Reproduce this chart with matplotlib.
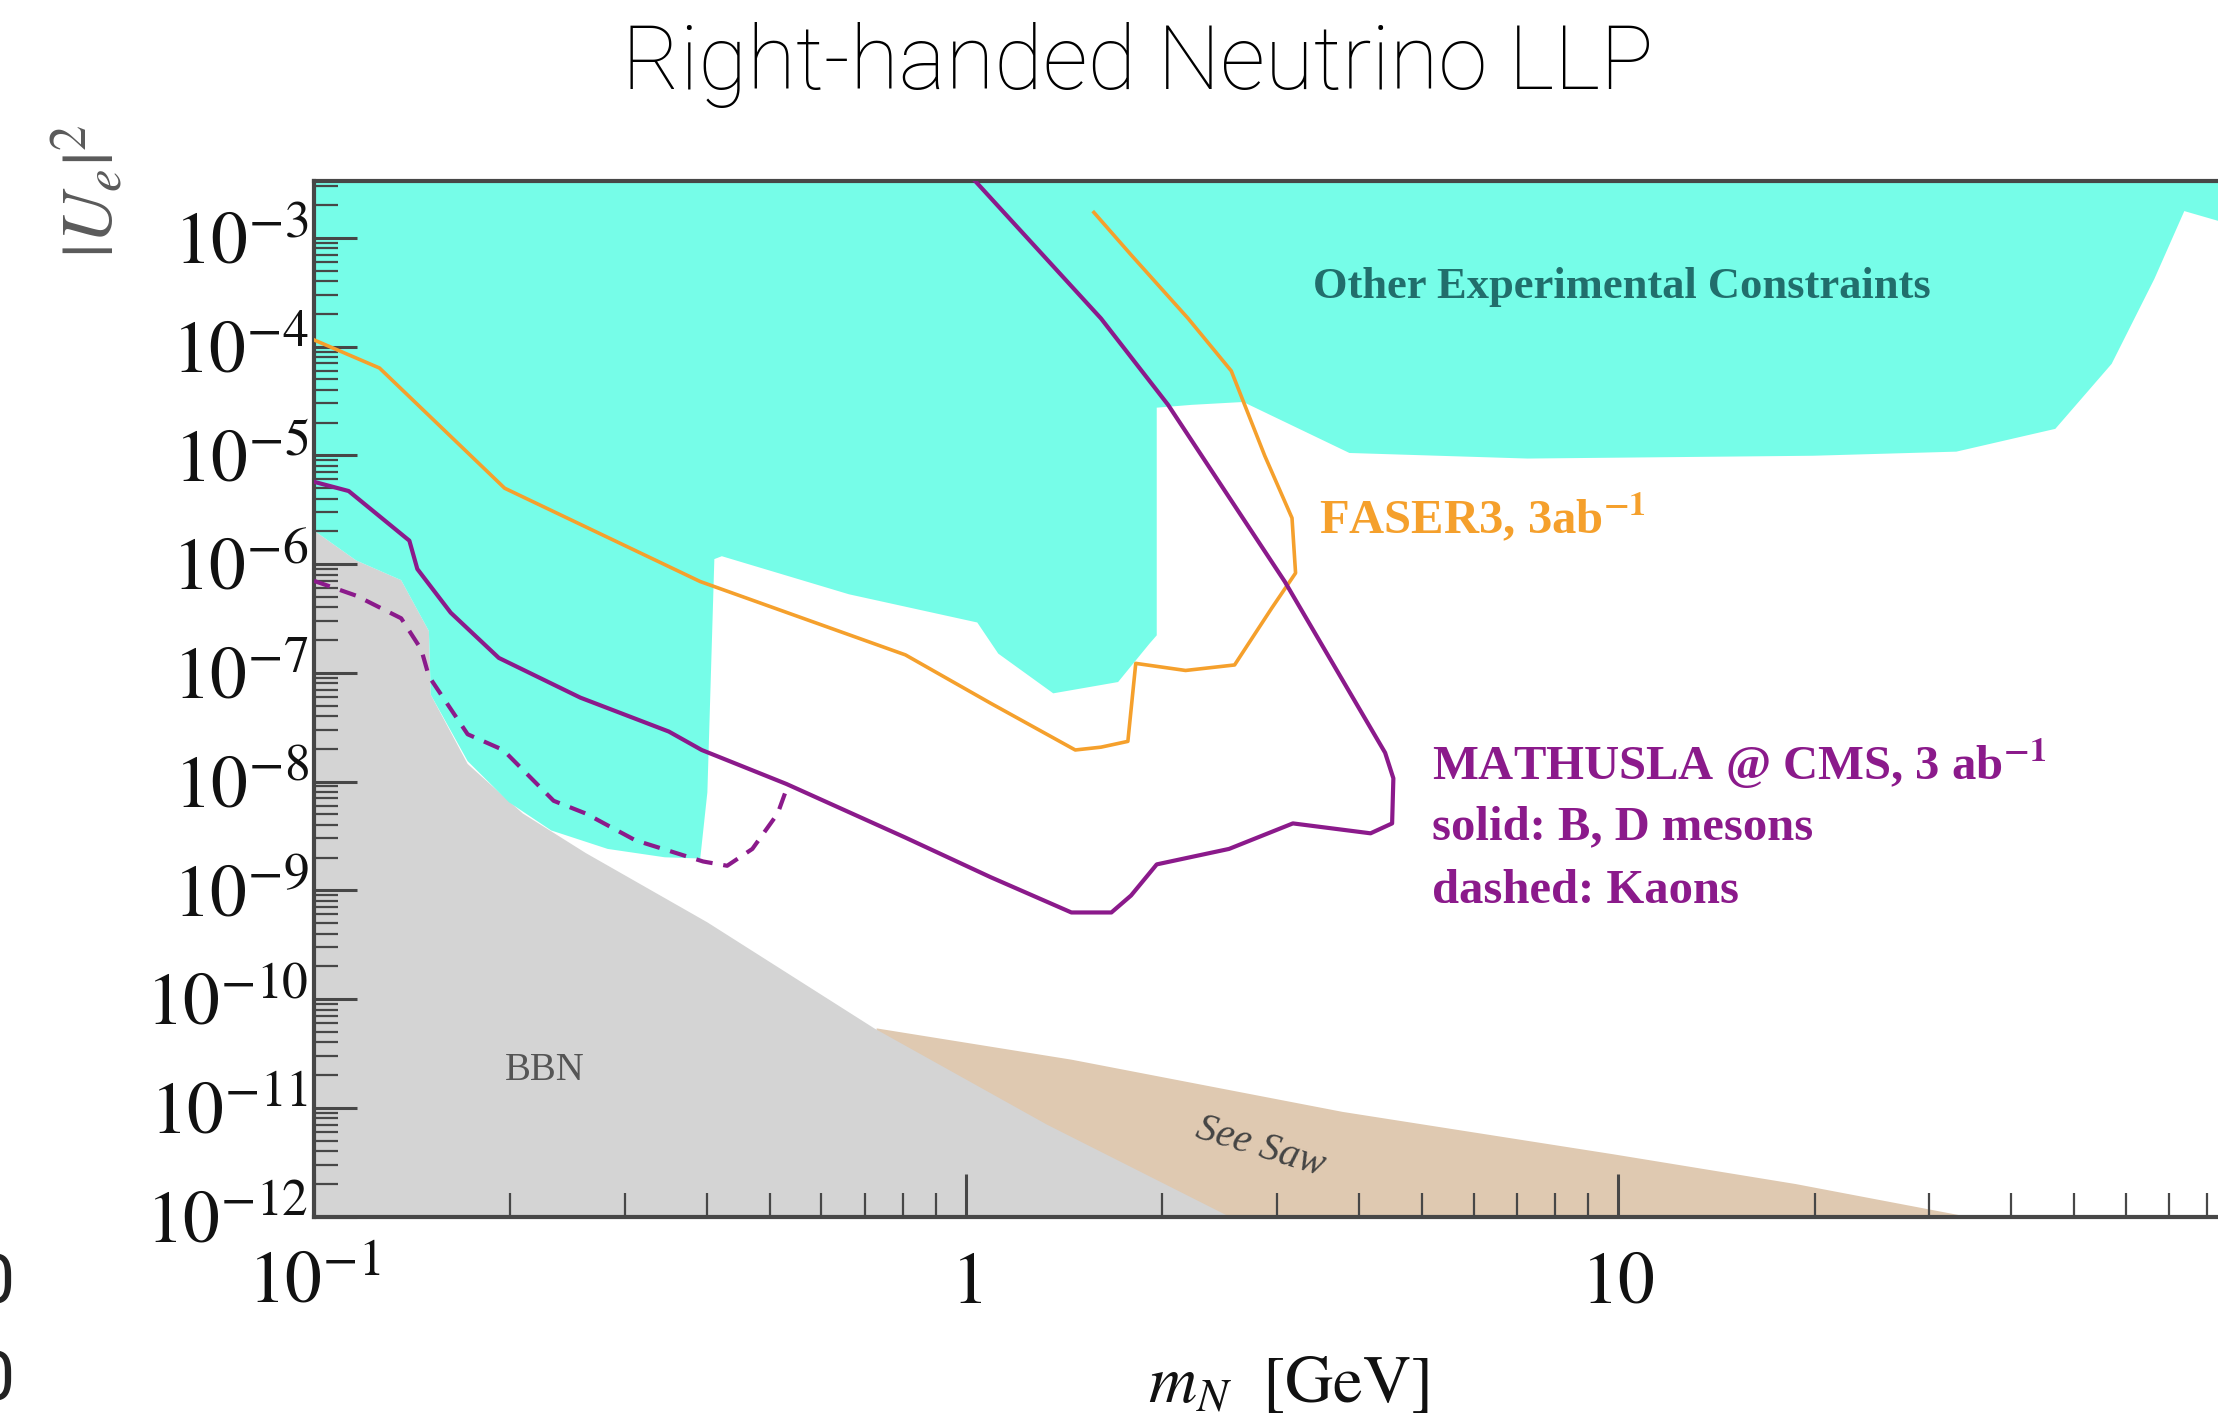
import numpy as np
import matplotlib
matplotlib.use('Agg')
import matplotlib.pyplot as plt
from matplotlib import ticker

plt.rcParams['font.family'] = 'serif'
plt.rcParams['font.serif'] = ['Liberation Serif', 'DejaVu Serif']
plt.rcParams['mathtext.fontset'] = 'stix'

# ---- data ----
# Other experimental constraints: lower edge of the excluded region
other_x = [0.1, 0.116, 0.136, 0.150, 0.151, 0.172, 0.199, 0.231, 0.282, 0.345, 0.391,
           0.401, 0.411, 0.422, 0.661, 1.04, 1.12, 1.36, 1.71, 1.91, 1.96, 1.96,
           2.22, 2.66, 3.87, 7.26, 19.9, 33.0, 46.8, 57.1, 66.4, 73.8, 83.2, 100]
other_y = [2.03e-6, 1.08e-6, 7.11e-7, 2.42e-7, 6.28e-8, 1.54e-8, 6.45e-9, 3.55e-9, 2.40e-9, 2.01e-9, 1.96e-9,
           7.96e-9, 1.11e-6, 1.18e-6, 5.27e-7, 2.90e-7, 1.50e-7, 6.47e-8, 8.22e-8, 1.85e-7, 2.21e-7, 2.74e-5,
           2.91e-5, 3.09e-5, 1.05e-5, 9.33e-6, 9.9e-6, 1.08e-5, 1.75e-5, 6.93e-5, 4.19e-4, 1.76e-3, 1.43e-3, 1.25e-3]

# BBN upper edge
bbn_x = [0.1, 0.116, 0.136, 0.150, 0.151, 0.172, 0.209, 0.261, 0.401, 0.723, 1.33, 2.53]
bbn_y = [2.03e-6, 1.08e-6, 7.11e-7, 2.42e-7, 6.28e-8, 1.45e-8, 5.08e-9, 2.20e-9, 5.07e-10, 5.37e-11, 7.0e-12, 1e-12]

# See-saw upper edge
seesaw_x = [0.729, 1.45, 3.78, 9.84, 18.7, 34.2]
seesaw_y = [5.37e-11, 2.77e-11, 9.16e-12, 3.73e-12, 1.99e-12, 1e-12]

# FASER3, 3 ab^-1
faser_x = [1.57, 1.79, 2.19, 2.55, 2.87, 3.16, 3.20, 2.94, 2.58, 2.17, 1.82, 1.77, 1.61, 1.47,
           1.09, 0.807, 0.391, 0.196, 0.126, 0.1]
faser_y = [1.71e-3, 6.97e-4, 1.81e-4, 5.97e-5, 9.9e-6, 2.65e-6, 8.26e-7, 3.91e-7, 1.18e-7, 1.05e-7, 1.22e-7,
           2.34e-8, 2.07e-8, 1.95e-8, 5.25e-8, 1.46e-7, 6.9e-7, 4.98e-6, 6.34e-5, 1.15e-4]

# MATHUSLA @ CMS, B/D mesons (solid)
mes_x = [0.1, 0.113, 0.140, 0.144, 0.162, 0.192, 0.256, 0.350, 0.393, 0.530, 0.807, 1.09, 1.45, 1.67,
         1.79, 1.96, 2.53, 3.17, 4.17, 4.50, 4.52, 4.39, 3.08, 2.04, 1.61, 0.97]
mes_y = [5.7e-6, 4.69e-6, 1.64e-6, 9.0e-7, 3.57e-7, 1.37e-7, 5.91e-8, 2.88e-8, 1.95e-8, 9.5e-9, 3.05e-9, 1.32e-9,
         6.25e-10, 6.25e-10, 8.95e-10, 1.73e-9, 2.40e-9, 4.12e-9, 3.34e-9, 4.12e-9, 1.07e-8, 1.84e-8,
         6.9e-7, 2.91e-5, 1.81e-4, 5e-3]

# MATHUSLA @ CMS, kaons (dashed)
kaon_x = [0.1, 0.116, 0.136, 0.146, 0.150, 0.172, 0.195, 0.233, 0.261, 0.311, 0.395, 0.430, 0.470, 0.514, 0.531]
kaon_y = [7.0e-7, 5.12e-7, 3.17e-7, 1.64e-7, 9.27e-8, 2.72e-8, 1.95e-8, 6.65e-9, 5.08e-9, 2.88e-9, 1.84e-9,
          1.68e-9, 2.40e-9, 5.08e-9, 8.7e-9]

x_ticks = [0.1, 1, 10, 100]
x_ticklabels = [r'$10^{-1}$', r'$1$', r'$10$', '']
y_ticks = [10.0**k for k in range(-12, -2)]

CYAN = '#76fde8'
GRAY = '#d4d4d4'
TAN = '#dfc9b1'
ORANGE = '#f5a02c'
PURPLE = '#8b1a8b'
AXC = '#474747'

fig = plt.figure(figsize=(22.18, 14.27), dpi=100)
ax = fig.add_axes([0.1416, 0.1475, 0.882, 0.7255])
ax.set_xscale('log')
ax.set_yscale('log')
ax.set_xlim(0.1, 100)
ax.set_ylim(1e-12, 10**-2.48)

# regions
ax.fill(seesaw_x + [34.2, 0.72], seesaw_y + [1e-13, 1e-13], color=TAN, lw=0, zorder=1)
ax.fill(bbn_x + [2.6, 0.09], bbn_y + [1e-13, 1e-13], color=GRAY, lw=0, zorder=1.1)
ax.fill(other_x + [100, 0.1], other_y + [1, 1], color=CYAN, lw=0, zorder=1.2)

# sensitivity curves
ax.plot(faser_x, faser_y, color=ORANGE, lw=2.6, zorder=3)
ax.plot(mes_x, mes_y, color=PURPLE, lw=3.0, zorder=3)
ax.plot(kaon_x, kaon_y, color=PURPLE, lw=3.0, ls=(0, (4, 2.6)), zorder=3)

# labels inside
ax.text(3.40, 3.5e-4, 'Other Experimental Constraints', color='#216e6c', fontsize=32,
        fontweight='bold', ha='left', va='center', zorder=4)
ax.text(3.47, 2.74e-6, r'FASER3, 3ab$^{\mathbf{-1}}$', color=ORANGE, fontsize=35,
        fontweight='bold', ha='left', va='center', zorder=4)
ax.text(5.18, 1.45e-8, r'MATHUSLA @ CMS, 3 ab$^{\mathbf{-1}}$', color=PURPLE, fontsize=35,
        fontweight='bold', ha='left', va='center', zorder=4)
ax.text(5.18, 3.77e-9, 'solid: B, D mesons', color=PURPLE, fontsize=35,
        fontweight='bold', ha='left', va='center', zorder=4)
ax.text(5.18, 9.8e-10, 'dashed: Kaons', color=PURPLE, fontsize=35,
        fontweight='bold', ha='left', va='center', zorder=4)
ax.text(0.226, 2.18e-11, 'BBN', color='#555555', fontsize=28, ha='center', va='center', zorder=4)
ax.text(2.83, 4.33e-12, 'See Saw', color='#444444', fontsize=29, style='italic',
        rotation=-17, ha='center', va='center', zorder=4)

# axes styling
for s in ['left', 'bottom', 'top']:
    ax.spines[s].set_linewidth(3)
    ax.spines[s].set_color(AXC)
ax.spines['right'].set_visible(False)

ax.xaxis.set_major_locator(ticker.FixedLocator(x_ticks))
ax.xaxis.set_minor_locator(ticker.LogLocator(base=10, subs=np.arange(2, 10), numticks=20))
ax.yaxis.set_major_locator(ticker.FixedLocator(y_ticks))
ax.yaxis.set_minor_locator(ticker.LogLocator(base=10, subs=np.arange(2, 10), numticks=30))
ax.yaxis.set_major_formatter(ticker.FuncFormatter(lambda v, p: r'$10^{%d}$' % round(np.log10(v))))
ax.yaxis.set_minor_formatter(ticker.NullFormatter())
ax.xaxis.set_minor_formatter(ticker.NullFormatter())
ax.set_xticks(x_ticks)
ax.set_xticklabels(x_ticklabels)

ax.tick_params(which='both', direction='in', color=AXC, top=False, right=False)
ax.tick_params(which='major', length=31, width=2.2, labelsize=53, labelcolor='#111111')
ax.tick_params(which='minor', length=17, width=1.6)
ax.tick_params(axis='y', which='major', pad=4)
ax.tick_params(axis='x', which='major', pad=62)
for lab in ax.get_xticklabels():
    lab.set_verticalalignment('baseline')

# axis titles
fig.text(0.581, 0.0294, r'$m_N\ \ \mathrm{[GeV]}$', fontsize=48, color='#111111',
         ha='center', va='center')
fig.text(0.040, 0.866, r'$|U_e|^2$', fontsize=52, color='#5a5a5a',
         rotation=90, ha='center', va='center')

# slide title
fig.text(0.513, 0.9376, 'Right-handed Neutrino LLP', fontsize=64, fontfamily='Roboto',
         fontweight='light', color='black', ha='center', va='baseline')

# cut-off glyphs at the left border of the slide
fig.text(0.0065, 0.100, '0', fontsize=50, fontfamily='Roboto', color='#222222',
         ha='right', va='center')
fig.text(0.0065, 0.032, '0', fontsize=50, fontfamily='Roboto', color='#222222',
         ha='right', va='center')

fig.savefig('out.png', dpi=100)
